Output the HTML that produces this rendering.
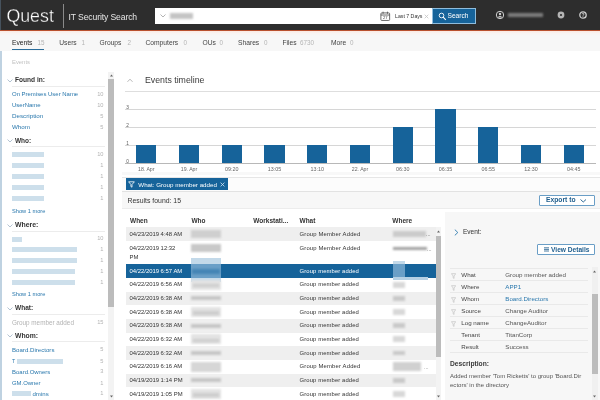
<!DOCTYPE html>
<html><head><meta charset="utf-8"><title>IT Security Search</title>
<style>
*{box-sizing:border-box;margin:0;padding:0}
html,body{width:600px;height:400px;overflow:hidden;background:#fff}
body{font-family:"Liberation Sans","DejaVu Sans",sans-serif;font-size:6px;color:#333;position:relative}
.a{position:absolute}
.t{position:absolute;white-space:nowrap}
#w{position:absolute;left:0;top:0;width:600px;height:400px;will-change:transform;filter:blur(.3px)}
</style></head><body><div id="w">
<div class="a" style="left:-3px;top:-3px;width:606px;height:33px;background:#2d2d2d;"></div>
<div class="a" style="left:-3px;top:29.6px;width:606px;height:1.6px;background:#b9502e;"></div>
<div class="a" style="left:-3px;top:31.2px;width:606px;height:20px;background:linear-gradient(#fbe9e2,#f9f4f2 2.5px,#f7f7f7 5px);"></div>
<div class="a" style="left:-3px;top:51.2px;width:606px;height:352px;background:#fff;"></div>
<div class="a" style="left:-3px;top:51.2px;width:4.6px;height:352px;background:#bfd2e1;"></div>
<div class="a" style="left:-3px;top:-3px;width:4.3px;height:33px;background:#46525d;"></div>
<div class="t" style="left:6.4px;top:7.63px;font-size:17.8px;line-height:17.8px;color:#fff;-webkit-text-stroke:.3px #2d2d2d;">Quest</div>
<div class="a" style="left:63px;top:3.5px;width:0.8px;height:24px;background:#8a8a8a;"></div>
<div class="t" style="left:68.5px;top:12.68px;font-size:8.6px;line-height:8.6px;color:#e6e6e6;letter-spacing:-0.113px;">IT Security Search</div>
<div class="a" style="left:155px;top:8px;width:278px;height:16px;background:#fff;"></div>
<svg class="a" style="left:160px;top:14px" width="6" height="4"><path d="M.5 .5L3 3L5.5 .5" fill="none" stroke="#aaa" stroke-width="0.9"/></svg>
<div class="a" style="left:170px;top:13px;width:23px;height:6px;background:#c4c4c4;filter:blur(0.8px)"></div>
<svg class="a" style="left:380.200px;top:10.600px" width="10.500" height="10.500" viewBox="0 0 12 12"><rect x="1" y="2.200" width="10" height="8.600" rx="1" fill="#fff" stroke="#555" stroke-width="1"/><path d="M3.500 .8v2.400M8.500 .8v2.400M1 4.600h10" stroke="#555" stroke-width="1" fill="none"/><text x="6" y="9.700" font-size="4.800" text-anchor="middle" fill="#444" font-family="Liberation Sans,sans-serif">27</text></svg>
<div class="t" style="left:395px;top:13.98px;font-size:5.21px;line-height:5.21px;color:#333;">Last 7 Days</div>
<svg class="a" style="left:423.500px;top:13.500px" width="5" height="5"><path d="M.7 .7l3.600 3.600M4.300 .7l-3.600 3.600" stroke="#c4c4c4" stroke-width=".8"/></svg>
<div class="a" style="left:432.2px;top:8px;width:43.6px;height:15.8px;background:#16639a;border:.8px solid #8fbcdc"></div>
<svg class="a" style="left:437.500px;top:11.500px" width="9" height="9"><circle cx="3.500" cy="3.500" r="2.300" fill="none" stroke="#fff" stroke-width=".9"/><path d="M5.200 5.200L7.800 7.800" stroke="#fff" stroke-width="1.100"/></svg>
<div class="t" style="left:447.5px;top:13.39px;font-size:6.63px;line-height:6.63px;color:#fff;">Search</div>
<svg class="a" style="left:495px;top:10px" width="10" height="10"><circle cx="5" cy="5" r="3.700" fill="none" stroke="#cfcfcf" stroke-width="1"/><circle cx="5" cy="4" r="1.200" fill="#cfcfcf"/><path d="M2.600 7.400Q5 4.600 7.400 7.400" fill="#cfcfcf"/></svg>
<div class="a" style="left:508px;top:12.75px;width:35px;height:4.5px;background:#7c7c7c;filter:blur(0.9px)"></div>
<svg class="a" style="left:556px;top:10px" width="10" height="10"><circle cx="5" cy="5" r="3.400" fill="#b4b4b4"/><circle cx="5" cy="5" r="1.100" fill="#2d2d2d"/></svg>
<svg class="a" style="left:578px;top:10px" width="10" height="10"><circle cx="5" cy="5" r="3.200" fill="none" stroke="#cdcdcd" stroke-width="1.300"/><text x="5" y="6.900" font-size="5" font-weight="bold" text-anchor="middle" fill="#cdcdcd" font-family="Liberation Sans,sans-serif">?</text></svg>
<div class="t" style="left:12px;top:39.75px;font-size:6.7px;line-height:6.7px;color:#222;">Events</div>
<div class="t" style="left:37.5px;top:39.97px;font-size:6.3px;line-height:6.3px;color:#b5b5b5;">15</div>
<div class="t" style="left:59.25px;top:39.75px;font-size:6.7px;line-height:6.7px;color:#444;">Users</div>
<div class="t" style="left:81.5px;top:39.97px;font-size:6.3px;line-height:6.3px;color:#b5b5b5;">1</div>
<div class="t" style="left:99.5px;top:39.75px;font-size:6.7px;line-height:6.7px;color:#444;">Groups</div>
<div class="t" style="left:127.5px;top:39.97px;font-size:6.3px;line-height:6.3px;color:#b5b5b5;">2</div>
<div class="t" style="left:145.5px;top:39.75px;font-size:6.7px;line-height:6.7px;color:#444;">Computers</div>
<div class="t" style="left:183.5px;top:39.97px;font-size:6.3px;line-height:6.3px;color:#b5b5b5;">0</div>
<div class="t" style="left:202.5px;top:39.75px;font-size:6.7px;line-height:6.7px;color:#444;">OUs</div>
<div class="t" style="left:219.5px;top:39.97px;font-size:6.3px;line-height:6.3px;color:#b5b5b5;">0</div>
<div class="t" style="left:238px;top:39.75px;font-size:6.7px;line-height:6.7px;color:#444;">Shares</div>
<div class="t" style="left:264px;top:39.97px;font-size:6.3px;line-height:6.3px;color:#b5b5b5;">0</div>
<div class="t" style="left:282.5px;top:39.75px;font-size:6.7px;line-height:6.7px;color:#444;">Files</div>
<div class="t" style="left:300px;top:39.97px;font-size:6.3px;line-height:6.3px;color:#b5b5b5;">6730</div>
<div class="t" style="left:331px;top:39.75px;font-size:6.7px;line-height:6.7px;color:#444;">More</div>
<div class="t" style="left:350px;top:39.97px;font-size:6.3px;line-height:6.3px;color:#b5b5b5;">0</div>
<div class="a" style="left:12px;top:48.6px;width:32px;height:1.5px;background:#2a6d9b;"></div>
<div class="t" style="left:12px;top:59.6px;font-size:5.89px;line-height:5.89px;color:#c2c2c2;">Events</div>
<div class="a" style="left:108px;top:72px;width:6.2px;height:331px;background:#f3f3f3;"></div>
<div class="a" style="left:108px;top:78.5px;width:6.2px;height:228px;background:#bcbcbc;"></div>
<svg class="a" style="left:108.6px;top:74px" width="5" height="3"><polygon points="1,2.600 2.500,.6 4,2.600" fill="#666"/></svg>
<svg class="a" style="left:108.6px;top:394.5px" width="5" height="3"><polygon points="1,.4 2.500,2.400 4,.4" fill="#666"/></svg>
<svg class="a" style="left:6.5px;top:78.5px" width="6" height="4"><path d="M.5 .5L3 3L5.5 .5" fill="none" stroke="#9fb4c6" stroke-width="0.8"/></svg>
<div class="t" style="left:15px;top:77.4px;font-size:6.6px;line-height:6.6px;color:#333;font-weight:bold;">Found in:</div>
<div class="a" style="left:12px;top:85.5px;width:93px;height:0.8px;background:#ececec;"></div>
<div class="t" style="left:12px;top:92.01px;font-size:5.96px;line-height:5.96px;color:#2a78ad;">On Premises User Name</div>
<div class="t" style="left:83.5px;top:92.16px;font-size:5.7px;line-height:5.7px;color:#b3b3b3;width:20px;text-align:right;">10</div>
<div class="t" style="left:12px;top:102.43px;font-size:6.01px;line-height:6.01px;color:#2a78ad;">UserName</div>
<div class="t" style="left:83.5px;top:102.61px;font-size:5.7px;line-height:5.7px;color:#b3b3b3;width:20px;text-align:right;">10</div>
<div class="t" style="left:12px;top:113.3px;font-size:6.25px;line-height:6.25px;color:#2a78ad;">Description</div>
<div class="t" style="left:83.5px;top:113.61px;font-size:5.7px;line-height:5.7px;color:#b3b3b3;width:20px;text-align:right;">5</div>
<div class="t" style="left:12px;top:124.31px;font-size:6.23px;line-height:6.23px;color:#2a78ad;">Whom</div>
<div class="t" style="left:83.5px;top:124.61px;font-size:5.7px;line-height:5.7px;color:#b3b3b3;width:20px;text-align:right;">5</div>
<svg class="a" style="left:6.5px;top:139px" width="6" height="4"><path d="M.5 .5L3 3L5.5 .5" fill="none" stroke="#9fb4c6" stroke-width="0.8"/></svg>
<div class="t" style="left:15px;top:137.97px;font-size:6.49px;line-height:6.49px;color:#333;font-weight:bold;">Who:</div>
<div class="a" style="left:12px;top:146px;width:93px;height:0.8px;background:#ececec;"></div>
<div class="a" style="left:12px;top:152.2px;width:31.5px;height:5px;background:#cddfeb;filter:blur(0.7px)"></div>
<div class="t" style="left:83.5px;top:152.11px;font-size:5.7px;line-height:5.7px;color:#b3b3b3;width:20px;text-align:right;">10</div>
<div class="a" style="left:12px;top:163.1px;width:31.5px;height:5px;background:#cddfeb;filter:blur(0.7px)"></div>
<div class="t" style="left:83.5px;top:163.01px;font-size:5.7px;line-height:5.7px;color:#b3b3b3;width:20px;text-align:right;">1</div>
<div class="a" style="left:12px;top:174px;width:31.5px;height:5px;background:#cddfeb;filter:blur(0.7px)"></div>
<div class="t" style="left:83.5px;top:173.91px;font-size:5.7px;line-height:5.7px;color:#b3b3b3;width:20px;text-align:right;">1</div>
<div class="a" style="left:12px;top:184.9px;width:31.5px;height:5px;background:#cddfeb;filter:blur(0.7px)"></div>
<div class="t" style="left:83.5px;top:184.81px;font-size:5.7px;line-height:5.7px;color:#b3b3b3;width:20px;text-align:right;">1</div>
<div class="a" style="left:12px;top:195.8px;width:31.5px;height:5px;background:#cddfeb;filter:blur(0.7px)"></div>
<div class="t" style="left:83.5px;top:195.71px;font-size:5.7px;line-height:5.7px;color:#b3b3b3;width:20px;text-align:right;">1</div>
<div class="t" style="left:12px;top:208.92px;font-size:5.68px;line-height:5.68px;color:#2a78ad;">Show 1 more</div>
<svg class="a" style="left:6.5px;top:223.5px" width="6" height="4"><path d="M.5 .5L3 3L5.5 .5" fill="none" stroke="#9fb4c6" stroke-width="0.8"/></svg>
<div class="t" style="left:15px;top:222.22px;font-size:6.92px;line-height:6.92px;color:#333;font-weight:bold;">Where:</div>
<div class="a" style="left:12px;top:230.5px;width:93px;height:0.8px;background:#ececec;"></div>
<div class="a" style="left:12px;top:236.5px;width:10px;height:5px;background:#cddfeb;filter:blur(0.7px)"></div>
<div class="t" style="left:83.5px;top:236.41px;font-size:5.7px;line-height:5.7px;color:#b3b3b3;width:20px;text-align:right;">10</div>
<div class="a" style="left:12px;top:247.3px;width:65px;height:5px;background:#cddfeb;filter:blur(0.7px)"></div>
<div class="t" style="left:83.5px;top:247.21px;font-size:5.7px;line-height:5.7px;color:#b3b3b3;width:20px;text-align:right;">1</div>
<div class="a" style="left:12px;top:258.1px;width:65px;height:5px;background:#cddfeb;filter:blur(0.7px)"></div>
<div class="t" style="left:83.5px;top:258.01px;font-size:5.7px;line-height:5.7px;color:#b3b3b3;width:20px;text-align:right;">1</div>
<div class="a" style="left:12px;top:268.9px;width:63px;height:5px;background:#cddfeb;filter:blur(0.7px)"></div>
<div class="t" style="left:83.5px;top:268.81px;font-size:5.7px;line-height:5.7px;color:#b3b3b3;width:20px;text-align:right;">1</div>
<div class="a" style="left:12px;top:279.7px;width:63px;height:5px;background:#cddfeb;filter:blur(0.7px)"></div>
<div class="t" style="left:83.5px;top:279.61px;font-size:5.7px;line-height:5.7px;color:#b3b3b3;width:20px;text-align:right;">1</div>
<div class="t" style="left:12px;top:292.32px;font-size:5.68px;line-height:5.68px;color:#2a78ad;">Show 1 more</div>
<svg class="a" style="left:6.5px;top:306.5px" width="6" height="4"><path d="M.5 .5L3 3L5.5 .5" fill="none" stroke="#9fb4c6" stroke-width="0.8"/></svg>
<div class="t" style="left:15px;top:305.44px;font-size:6.53px;line-height:6.53px;color:#333;font-weight:bold;">What:</div>
<div class="a" style="left:12px;top:313.5px;width:93px;height:0.8px;background:#ececec;"></div>
<div class="t" style="left:12px;top:319.55px;font-size:6.34px;line-height:6.34px;color:#b3b3b3;">Group member added</div>
<div class="t" style="left:83.5px;top:319.91px;font-size:5.7px;line-height:5.7px;color:#b3b3b3;width:20px;text-align:right;">15</div>
<svg class="a" style="left:6.5px;top:334.1px" width="6" height="4"><path d="M.5 .5L3 3L5.5 .5" fill="none" stroke="#9fb4c6" stroke-width="0.8"/></svg>
<div class="t" style="left:15px;top:332.89px;font-size:6.8px;line-height:6.8px;color:#333;font-weight:bold;">Whom:</div>
<div class="a" style="left:12px;top:341.1px;width:93px;height:0.8px;background:#ececec;"></div>
<div class="t" style="left:12px;top:347.17px;font-size:6.12px;line-height:6.12px;color:#2a78ad;">Board.Directors</div>
<div class="t" style="left:83.5px;top:347.41px;font-size:5.7px;line-height:5.7px;color:#b3b3b3;width:20px;text-align:right;">5</div>
<div class="t" style="left:12px;top:359.17px;font-size:5.23px;line-height:5.23px;color:#2a78ad;">T</div>
<div class="a" style="left:17px;top:358.5px;width:46px;height:5px;background:#cddfeb;filter:blur(0.7px)"></div>
<div class="t" style="left:83.5px;top:358.91px;font-size:5.7px;line-height:5.7px;color:#b3b3b3;width:20px;text-align:right;">5</div>
<div class="t" style="left:12px;top:368.95px;font-size:5.99px;line-height:5.99px;color:#2a78ad;">Board.Owners</div>
<div class="t" style="left:83.5px;top:369.11px;font-size:5.7px;line-height:5.7px;color:#b3b3b3;width:20px;text-align:right;">3</div>
<div class="t" style="left:12px;top:380.79px;font-size:5.91px;line-height:5.91px;color:#2a78ad;">GM.Owner</div>
<div class="t" style="left:83.5px;top:380.91px;font-size:5.7px;line-height:5.7px;color:#b3b3b3;width:20px;text-align:right;">1</div>
<div class="a" style="left:12px;top:391.1px;width:19px;height:5px;background:#cddfeb;filter:blur(0.7px)"></div>
<div class="t" style="left:32.5px;top:391.1px;font-size:6.07px;line-height:6.07px;color:#2a78ad;">dmins</div>
<div class="t" style="left:83.5px;top:391.31px;font-size:5.7px;line-height:5.7px;color:#b3b3b3;width:20px;text-align:right;">1</div>
<svg class="a" style="left:126.800px;top:78.200px" width="6" height="5"><path d="M.5 3.800L3 1.200L5.500 3.800" fill="none" stroke="#a5a5a5" stroke-width=".8"/></svg>
<div class="t" style="left:145px;top:76.19px;font-size:8.77px;line-height:8.77px;color:#3a3a3a;">Events timeline</div>
<div class="a" style="left:125px;top:90.6px;width:478px;height:0.9px;background:#dedede;"></div>
<div class="a" style="left:125.3px;top:108.6px;width:471px;height:0.8px;background:#d6d6d6;"></div>
<div class="a" style="left:125.3px;top:126.6px;width:471px;height:0.8px;background:#d6d6d6;"></div>
<div class="a" style="left:125.3px;top:144.6px;width:471px;height:0.8px;background:#d6d6d6;"></div>
<div class="a" style="left:125.3px;top:163px;width:471px;height:0.9px;background:#b8b8b8;"></div>
<div class="t" style="left:126.2px;top:105.88px;font-size:4.67px;line-height:4.67px;color:#555;">3</div>
<div class="t" style="left:126.2px;top:123.88px;font-size:4.67px;line-height:4.67px;color:#555;">2</div>
<div class="t" style="left:126.2px;top:141.88px;font-size:4.67px;line-height:4.67px;color:#555;">1</div>
<div class="t" style="left:126.2px;top:159.88px;font-size:4.67px;line-height:4.67px;color:#555;">0</div>
<div class="a" style="left:136px;top:145.3px;width:20.3px;height:17.7px;background:#16639a;"></div>
<div class="t" style="left:126px;top:167.18px;font-size:5.21px;line-height:5.21px;color:#666;width:40.5px;text-align:center;">18. Apr</div>
<div class="a" style="left:178.75px;top:145.3px;width:20.3px;height:17.7px;background:#16639a;"></div>
<div class="t" style="left:168.75px;top:167.18px;font-size:5.21px;line-height:5.21px;color:#666;width:40.5px;text-align:center;">19. Apr</div>
<div class="a" style="left:221.5px;top:145.3px;width:20.3px;height:17.7px;background:#16639a;"></div>
<div class="t" style="left:211.5px;top:167.08px;font-size:5.39px;line-height:5.39px;color:#666;width:40.5px;text-align:center;">09:20</div>
<div class="a" style="left:264.25px;top:145.3px;width:20.3px;height:17.7px;background:#16639a;"></div>
<div class="t" style="left:254.25px;top:167.08px;font-size:5.39px;line-height:5.39px;color:#666;width:40.5px;text-align:center;">13:05</div>
<div class="a" style="left:307px;top:145.3px;width:20.3px;height:17.7px;background:#16639a;"></div>
<div class="t" style="left:297px;top:167.08px;font-size:5.39px;line-height:5.39px;color:#666;width:40.5px;text-align:center;">13:10</div>
<div class="a" style="left:349.75px;top:145.3px;width:20.3px;height:17.7px;background:#16639a;"></div>
<div class="t" style="left:339.75px;top:167.18px;font-size:5.21px;line-height:5.21px;color:#666;width:40.5px;text-align:center;">22. Apr</div>
<div class="a" style="left:392.5px;top:127.3px;width:20.3px;height:35.7px;background:#16639a;"></div>
<div class="t" style="left:382.5px;top:167.08px;font-size:5.39px;line-height:5.39px;color:#666;width:40.5px;text-align:center;">06:30</div>
<div class="a" style="left:435.25px;top:109.3px;width:20.3px;height:53.7px;background:#16639a;"></div>
<div class="t" style="left:425.25px;top:167.08px;font-size:5.39px;line-height:5.39px;color:#666;width:40.5px;text-align:center;">06:35</div>
<div class="a" style="left:478px;top:127.3px;width:20.3px;height:35.7px;background:#16639a;"></div>
<div class="t" style="left:468px;top:167.08px;font-size:5.39px;line-height:5.39px;color:#666;width:40.5px;text-align:center;">06:55</div>
<div class="a" style="left:520.75px;top:145.3px;width:20.3px;height:17.7px;background:#16639a;"></div>
<div class="t" style="left:510.75px;top:167.08px;font-size:5.39px;line-height:5.39px;color:#666;width:40.5px;text-align:center;">12:30</div>
<div class="a" style="left:563.5px;top:145.3px;width:20.3px;height:17.7px;background:#16639a;"></div>
<div class="t" style="left:553.5px;top:167.08px;font-size:5.39px;line-height:5.39px;color:#666;width:40.5px;text-align:center;">04:45</div>
<div class="a" style="left:122px;top:172px;width:481px;height:3px;background:#f8f8f8;"></div>
<div class="a" style="left:122px;top:177.4px;width:481px;height:0.9px;background:#e6e6e6;"></div>
<div class="a" style="left:122px;top:178.3px;width:481px;height:12.7px;background:#fcfcfc;"></div>
<div class="a" style="left:125.5px;top:178px;width:102.7px;height:12px;background:#16639a;"></div>
<svg class="a" style="left:128px;top:180.800px" width="7" height="7"><path d="M.6 .8h5.800L4 3.500v2.700L2.900 5.500v-2z" fill="none" stroke="#fff" stroke-width=".8"/></svg>
<div class="t" style="left:138.3px;top:181.62px;font-size:6.21px;line-height:6.21px;color:#fff;">What: Group member added</div>
<svg class="a" style="left:220px;top:181.500px" width="5" height="5"><path d="M.6 .6l3.800 3.800M4.400 .6l-3.800 3.800" stroke="#d5e6f2" stroke-width=".8"/></svg>
<div class="a" style="left:122px;top:190.8px;width:481px;height:1px;background:#e2e2e2;"></div>
<div class="a" style="left:122px;top:191.8px;width:481px;height:16px;background:#f7f7f7;"></div>
<div class="t" style="left:127.5px;top:197.75px;font-size:6.88px;line-height:6.88px;color:#333;">Results found: 15</div>
<div class="a" style="left:538.7px;top:194.5px;width:56px;height:11.3px;background:#fff;border:.9px solid #6a9ec6;border-radius:1px"></div>
<div class="t" style="left:546px;top:197.34px;font-size:6.72px;line-height:6.72px;color:#1d5c8c;font-weight:bold;">Export to</div>
<svg class="a" style="left:579.5px;top:198.5px" width="6.5" height="4"><path d="M.5 .5L3.25 3L6 .5" fill="none" stroke="#1d5c8c" stroke-width="0.9"/></svg>
<div class="a" style="left:122px;top:207.8px;width:481px;height:0.8px;background:#ececec;"></div>
<div class="t" style="left:130px;top:218.26px;font-size:6.5px;line-height:6.5px;color:#333;font-weight:bold;">When</div>
<div class="t" style="left:191.4px;top:218.26px;font-size:6.5px;line-height:6.5px;color:#333;font-weight:bold;">Who</div>
<div class="t" style="left:253.3px;top:218.26px;font-size:6.5px;line-height:6.5px;color:#333;font-weight:bold;">Workstati...</div>
<div class="t" style="left:299.5px;top:218.26px;font-size:6.5px;line-height:6.5px;color:#333;font-weight:bold;">What</div>
<div class="t" style="left:392.3px;top:218.26px;font-size:6.5px;line-height:6.5px;color:#333;font-weight:bold;">Where</div>
<div class="a" style="left:125.5px;top:227px;width:310px;height:13.67px;background:#efefef;"></div>
<div class="t" style="left:129.5px;top:231.63px;font-size:5.9px;line-height:5.9px;color:#333;">04/23/2019 4:48 AM</div>
<div class="t" style="left:299.5px;top:231.63px;font-size:5.9px;line-height:5.9px;color:#333;letter-spacing:0.168px;">Group Member Added</div>
<div class="a" style="left:191px;top:229.835px;width:30px;height:8px;background:#cfcfcf;filter:blur(0.8px)"></div>
<div class="a" style="left:392.5px;top:230.835px;width:33px;height:6px;background:#cbcbcb;filter:blur(0.9px)"></div>
<div class="t" style="left:426px;top:231.85px;font-size:5.5px;line-height:5.5px;color:#555;">...</div>
<div class="t" style="left:129.5px;top:246.47px;font-size:5.9px;line-height:5.9px;color:#333;">04/22/2019 12:32</div>
<div class="t" style="left:129.5px;top:255.47px;font-size:5.9px;line-height:5.9px;color:#333;">PM</div>
<div class="t" style="left:299.5px;top:246.47px;font-size:5.9px;line-height:5.9px;color:#333;letter-spacing:0.168px;">Group Member Added</div>
<div class="a" style="left:191px;top:243.67px;width:30px;height:8px;background:#c8c8c8;filter:blur(0.8px)"></div>
<div class="a" style="left:392.5px;top:247.47px;width:34px;height:3px;background:#a2a2a2;filter:blur(0.8px)"></div>
<div class="t" style="left:427px;top:246.69px;font-size:5.5px;line-height:5.5px;color:#555;">...</div>
<div class="a" style="left:125.5px;top:264.17px;width:310px;height:13.67px;background:#16639a;"></div>
<div class="t" style="left:129.5px;top:268.8px;font-size:5.9px;line-height:5.9px;color:#fff;">04/22/2019 6:57 AM</div>
<div class="t" style="left:299.5px;top:268.8px;font-size:5.9px;line-height:5.9px;color:#fff;letter-spacing:0.103px;">Group member added</div>
<div class="a" style="left:191px;top:257.92px;width:30px;height:6.5px;background:#c3d9e9;filter:blur(0.7px)"></div>
<div class="a" style="left:191px;top:264.17px;width:30px;height:13.67px;background:#6a9fc7;filter:blur(0.6px)"></div>
<div class="a" style="left:192px;top:269.255px;width:28px;height:4.5px;background:#4585b5;filter:blur(0.8px)"></div>
<div class="a" style="left:191px;top:277.79px;width:30px;height:4.5px;background:#c6daea;filter:blur(0.7px)"></div>
<div class="a" style="left:392.5px;top:261.17px;width:12px;height:3px;background:#c3d9e9;filter:blur(0.7px)"></div>
<div class="a" style="left:392.5px;top:264.17px;width:12px;height:13.67px;background:#6a9fc7;filter:blur(0.6px)"></div>
<div class="a" style="left:392.5px;top:277.34px;width:35px;height:3px;background:#b5d0e4;filter:blur(0.7px)"></div>
<div class="t" style="left:129.5px;top:282.47px;font-size:5.9px;line-height:5.9px;color:#333;">04/22/2019 6:56 AM</div>
<div class="t" style="left:299.5px;top:282.47px;font-size:5.9px;line-height:5.9px;color:#333;letter-spacing:0.103px;">Group member added</div>
<div class="a" style="left:191px;top:279.675px;width:30px;height:10px;background:#e3e3e3;filter:blur(0.9px)"></div>
<div class="a" style="left:193px;top:283.925px;width:26px;height:3.5px;background:#cdcdcd;filter:blur(0.8px)"></div>
<div class="a" style="left:392.5px;top:281.675px;width:12px;height:6px;background:#d8d8d8;filter:blur(0.8px)"></div>
<div class="a" style="left:125.5px;top:291.51px;width:310px;height:13.67px;background:#efefef;"></div>
<div class="t" style="left:129.5px;top:296.14px;font-size:5.9px;line-height:5.9px;color:#333;">04/22/2019 6:38 AM</div>
<div class="t" style="left:299.5px;top:296.14px;font-size:5.9px;line-height:5.9px;color:#333;letter-spacing:0.103px;">Group member added</div>
<div class="a" style="left:191px;top:296.345px;width:30px;height:4px;background:#c6c6c6;filter:blur(0.8px)"></div>
<div class="a" style="left:392.5px;top:296.095px;width:12px;height:4.5px;background:#c9c9c9;filter:blur(0.8px)"></div>
<div class="t" style="left:129.5px;top:309.81px;font-size:5.9px;line-height:5.9px;color:#333;">04/22/2019 6:38 AM</div>
<div class="t" style="left:299.5px;top:309.81px;font-size:5.9px;line-height:5.9px;color:#333;letter-spacing:0.103px;">Group member added</div>
<div class="a" style="left:191px;top:307.015px;width:30px;height:10px;background:#e3e3e3;filter:blur(0.9px)"></div>
<div class="a" style="left:193px;top:311.265px;width:26px;height:3.5px;background:#cdcdcd;filter:blur(0.8px)"></div>
<div class="a" style="left:392.5px;top:309.015px;width:12px;height:6px;background:#d8d8d8;filter:blur(0.8px)"></div>
<div class="a" style="left:125.5px;top:318.85px;width:310px;height:13.67px;background:#efefef;"></div>
<div class="t" style="left:129.5px;top:323.48px;font-size:5.9px;line-height:5.9px;color:#333;">04/22/2019 6:38 AM</div>
<div class="t" style="left:299.5px;top:323.48px;font-size:5.9px;line-height:5.9px;color:#333;letter-spacing:0.103px;">Group member added</div>
<div class="a" style="left:191px;top:323.685px;width:30px;height:4px;background:#c6c6c6;filter:blur(0.8px)"></div>
<div class="a" style="left:392.5px;top:323.435px;width:12px;height:4.5px;background:#c9c9c9;filter:blur(0.8px)"></div>
<div class="t" style="left:129.5px;top:337.15px;font-size:5.9px;line-height:5.9px;color:#333;">04/22/2019 6:32 AM</div>
<div class="t" style="left:299.5px;top:337.15px;font-size:5.9px;line-height:5.9px;color:#333;letter-spacing:0.103px;">Group member added</div>
<div class="a" style="left:191px;top:334.355px;width:30px;height:10px;background:#e3e3e3;filter:blur(0.9px)"></div>
<div class="a" style="left:193px;top:338.605px;width:26px;height:3.5px;background:#cdcdcd;filter:blur(0.8px)"></div>
<div class="a" style="left:392.5px;top:336.355px;width:12px;height:6px;background:#d8d8d8;filter:blur(0.8px)"></div>
<div class="a" style="left:125.5px;top:346.19px;width:310px;height:13.67px;background:#efefef;"></div>
<div class="t" style="left:129.5px;top:350.82px;font-size:5.9px;line-height:5.9px;color:#333;">04/22/2019 6:32 AM</div>
<div class="t" style="left:299.5px;top:350.82px;font-size:5.9px;line-height:5.9px;color:#333;letter-spacing:0.103px;">Group member added</div>
<div class="a" style="left:191px;top:351.025px;width:30px;height:4px;background:#c6c6c6;filter:blur(0.8px)"></div>
<div class="a" style="left:392.5px;top:350.775px;width:12px;height:4.5px;background:#c9c9c9;filter:blur(0.8px)"></div>
<div class="t" style="left:129.5px;top:364.49px;font-size:5.9px;line-height:5.9px;color:#333;">04/22/2019 6:16 AM</div>
<div class="t" style="left:299.5px;top:364.49px;font-size:5.9px;line-height:5.9px;color:#333;letter-spacing:0.168px;">Group Member Added</div>
<div class="a" style="left:191px;top:361.695px;width:30px;height:10px;background:#d6d6d6;filter:blur(0.9px)"></div>
<div class="a" style="left:392.5px;top:362.195px;width:28px;height:9px;background:#d0d0d0;filter:blur(0.9px)"></div>
<div class="t" style="left:424px;top:364.72px;font-size:5.5px;line-height:5.5px;color:#777;">...</div>
<div class="a" style="left:125.5px;top:373.53px;width:310px;height:13.67px;background:#efefef;"></div>
<div class="t" style="left:129.5px;top:378.16px;font-size:5.9px;line-height:5.9px;color:#333;">04/19/2019 1:14 PM</div>
<div class="t" style="left:299.5px;top:378.16px;font-size:5.9px;line-height:5.9px;color:#333;letter-spacing:0.103px;">Group member added</div>
<div class="a" style="left:191px;top:378.365px;width:30px;height:4px;background:#c6c6c6;filter:blur(0.8px)"></div>
<div class="a" style="left:392.5px;top:378.115px;width:12px;height:4.5px;background:#c9c9c9;filter:blur(0.8px)"></div>
<div class="t" style="left:129.5px;top:391.83px;font-size:5.9px;line-height:5.9px;color:#333;">04/19/2019 1:05 PM</div>
<div class="t" style="left:299.5px;top:391.83px;font-size:5.9px;line-height:5.9px;color:#333;letter-spacing:0.103px;">Group member added</div>
<div class="a" style="left:191px;top:389.035px;width:30px;height:10px;background:#e3e3e3;filter:blur(0.9px)"></div>
<div class="a" style="left:193px;top:393.285px;width:26px;height:3.5px;background:#cdcdcd;filter:blur(0.8px)"></div>
<div class="a" style="left:392.5px;top:391.035px;width:12px;height:6px;background:#d8d8d8;filter:blur(0.8px)"></div>
<div class="a" style="left:435.5px;top:227px;width:5.7px;height:176px;background:#f3f3f3;"></div>
<div class="a" style="left:435.5px;top:236px;width:5.7px;height:121px;background:#bcbcbc;"></div>
<svg class="a" style="left:435.9px;top:229.5px" width="5" height="3"><polygon points="1,2.600 2.500,.6 4,2.600" fill="#666"/></svg>
<svg class="a" style="left:435.9px;top:394.5px" width="5" height="3"><polygon points="1,.4 2.500,2.400 4,.4" fill="#666"/></svg>
<div class="a" style="left:445px;top:211.5px;width:158px;height:191.5px;background:#f7f7f7;"></div>
<svg class="a" style="left:453.500px;top:228.500px" width="5" height="7"><path d="M.8 .6L3.800 3.500L.8 6.400" fill="none" stroke="#2a78ad" stroke-width=".9"/></svg>
<div class="t" style="left:463px;top:229.44px;font-size:6.53px;line-height:6.53px;color:#333;">Event:</div>
<div class="a" style="left:537px;top:243.8px;width:57.5px;height:11.2px;background:#fff;border:.9px solid #6a9ec6;border-radius:1px"></div>
<svg class="a" style="left:543.500px;top:247px" width="6" height="5"><path d="M0 .8h5M0 2.400h5M0 4h5" stroke="#1d5c8c" stroke-width=".8"/></svg>
<div class="t" style="left:551px;top:246.89px;font-size:6.62px;line-height:6.62px;color:#1d5c8c;font-weight:bold;">View Details</div>
<div class="a" style="left:592px;top:267px;width:5.5px;height:136px;background:#f0f0f0;"></div>
<div class="a" style="left:592px;top:293.7px;width:5.5px;height:80px;background:#bcbcbc;"></div>
<svg class="a" style="left:592.3px;top:270px" width="5" height="3"><polygon points="1,2.600 2.500,.6 4,2.600" fill="#666"/></svg>
<svg class="a" style="left:592.3px;top:394.5px" width="5" height="3"><polygon points="1,.4 2.500,2.400 4,.4" fill="#666"/></svg>
<div class="a" style="left:450px;top:268.1px;width:138px;height:0.7px;background:#e9e9e9;"></div>
<svg class="a" style="left:450.8px;top:272.9px" width="5.200" height="6" viewBox="0 0 7 7" preserveAspectRatio="none"><path d="M.6 .8h5.800L4.100 3.500v2.900L2.900 5.600v-2.100z" fill="none" stroke="#c4c4c4" stroke-width=".9"/></svg>
<div class="t" style="left:461.3px;top:271.83px;font-size:6.2px;line-height:6.2px;color:#444;">What</div>
<div class="t" style="left:505.3px;top:271.83px;font-size:6.2px;line-height:6.2px;color:#555;">Group member added</div>
<div class="a" style="left:450px;top:280.1px;width:138px;height:0.7px;background:#e9e9e9;"></div>
<svg class="a" style="left:450.8px;top:284.85px" width="5.200" height="6" viewBox="0 0 7 7" preserveAspectRatio="none"><path d="M.6 .8h5.800L4.100 3.500v2.900L2.900 5.600v-2.100z" fill="none" stroke="#c4c4c4" stroke-width=".9"/></svg>
<div class="t" style="left:461.3px;top:283.78px;font-size:6.2px;line-height:6.2px;color:#444;">Where</div>
<div class="t" style="left:505.3px;top:283.78px;font-size:6.2px;line-height:6.2px;color:#2a78ad;">APP1</div>
<div class="a" style="left:450px;top:292.05px;width:138px;height:0.7px;background:#e9e9e9;"></div>
<svg class="a" style="left:450.8px;top:296.8px" width="5.200" height="6" viewBox="0 0 7 7" preserveAspectRatio="none"><path d="M.6 .8h5.800L4.100 3.500v2.900L2.900 5.600v-2.100z" fill="none" stroke="#c4c4c4" stroke-width=".9"/></svg>
<div class="t" style="left:461.3px;top:295.73px;font-size:6.2px;line-height:6.2px;color:#444;">Whom</div>
<div class="t" style="left:505.3px;top:295.73px;font-size:6.2px;line-height:6.2px;color:#2a78ad;">Board.Directors</div>
<div class="a" style="left:450px;top:304px;width:138px;height:0.7px;background:#e9e9e9;"></div>
<svg class="a" style="left:450.8px;top:308.75px" width="5.200" height="6" viewBox="0 0 7 7" preserveAspectRatio="none"><path d="M.6 .8h5.800L4.100 3.500v2.900L2.900 5.600v-2.100z" fill="none" stroke="#c4c4c4" stroke-width=".9"/></svg>
<div class="t" style="left:461.3px;top:307.68px;font-size:6.2px;line-height:6.2px;color:#444;">Source</div>
<div class="t" style="left:505.3px;top:307.68px;font-size:6.2px;line-height:6.2px;color:#555;">Change Auditor</div>
<div class="a" style="left:450px;top:315.95px;width:138px;height:0.7px;background:#e9e9e9;"></div>
<svg class="a" style="left:450.8px;top:320.7px" width="5.200" height="6" viewBox="0 0 7 7" preserveAspectRatio="none"><path d="M.6 .8h5.800L4.100 3.500v2.900L2.900 5.600v-2.100z" fill="none" stroke="#c4c4c4" stroke-width=".9"/></svg>
<div class="t" style="left:461.3px;top:319.63px;font-size:6.2px;line-height:6.2px;color:#444;">Log name</div>
<div class="t" style="left:505.3px;top:319.63px;font-size:6.2px;line-height:6.2px;color:#555;">ChangeAuditor</div>
<div class="a" style="left:450px;top:327.9px;width:138px;height:0.7px;background:#e9e9e9;"></div>
<div class="t" style="left:461.3px;top:331.58px;font-size:6.2px;line-height:6.2px;color:#444;">Tenant</div>
<div class="t" style="left:505.3px;top:331.58px;font-size:6.2px;line-height:6.2px;color:#555;">TitanCorp</div>
<div class="a" style="left:450px;top:339.85px;width:138px;height:0.7px;background:#e9e9e9;"></div>
<div class="t" style="left:461.3px;top:343.53px;font-size:6.2px;line-height:6.2px;color:#444;">Result</div>
<div class="t" style="left:505.3px;top:343.53px;font-size:6.2px;line-height:6.2px;color:#555;">Success</div>
<div class="a" style="left:450px;top:351.8px;width:138px;height:0.7px;background:#e9e9e9;"></div>
<div class="t" style="left:450px;top:360.65px;font-size:6.69px;line-height:6.69px;color:#3a3a3a;font-weight:bold;">Description:</div>
<div class="t" style="left:450px;top:372.93px;font-size:6.01px;line-height:6.01px;color:#555;">Added member 'Tom Ricketts' to group 'Board.Dir</div>
<div class="t" style="left:450px;top:382.31px;font-size:6.06px;line-height:6.06px;color:#555;">ectors' in the directory</div>
</div></body></html>
